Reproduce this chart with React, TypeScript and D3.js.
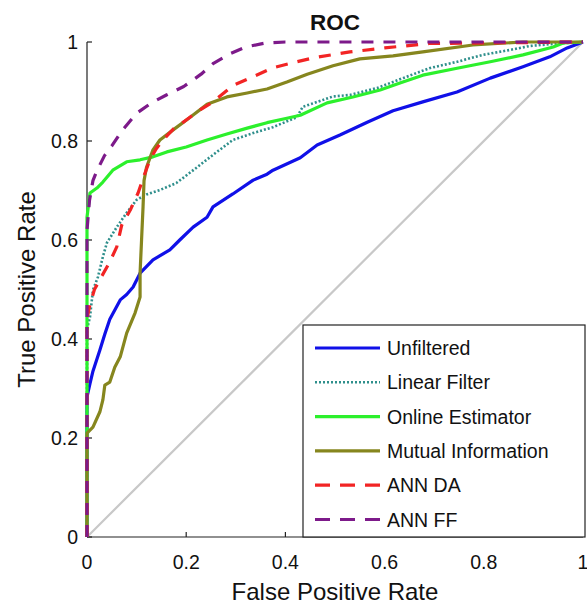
import React from "react";
import * as d3 from "d3";

const W = 587;
const H = 607;

const xTicks = [0, 0.2, 0.4, 0.6, 0.8, 1];
const yTicks = [0, 0.2, 0.4, 0.6, 0.8, 1];

// ROC points as [false positive rate, true positive rate]
const unfiltered: [number, number][] = [
  [0, 0], [0, 0.283], [0.006, 0.31], [0.012, 0.335], [0.026, 0.378], [0.036, 0.41],
  [0.046, 0.44], [0.067, 0.479], [0.08, 0.49], [0.093, 0.505], [0.107, 0.533],
  [0.133, 0.56], [0.167, 0.58], [0.187, 0.6], [0.214, 0.626], [0.242, 0.646],
  [0.254, 0.667], [0.294, 0.693], [0.335, 0.721], [0.363, 0.733], [0.375, 0.741],
  [0.43, 0.766], [0.464, 0.792], [0.51, 0.812], [0.565, 0.838], [0.617, 0.861],
  [0.677, 0.879], [0.746, 0.899], [0.813, 0.927], [0.879, 0.95], [0.933, 0.97],
  [0.968, 0.988], [1, 1],
];

const linearFilter: [number, number][] = [
  [0, 0], [0, 0.42], [0.006, 0.444], [0.012, 0.499], [0.022, 0.525], [0.032, 0.566],
  [0.04, 0.594], [0.06, 0.626], [0.08, 0.655], [0.1, 0.681], [0.12, 0.692],
  [0.147, 0.701], [0.18, 0.715], [0.222, 0.747], [0.254, 0.772], [0.294, 0.802],
  [0.335, 0.816], [0.375, 0.828], [0.423, 0.848], [0.435, 0.869], [0.496, 0.89],
  [0.53, 0.893], [0.585, 0.907], [0.637, 0.927], [0.69, 0.947], [0.746, 0.96],
  [0.798, 0.974], [0.853, 0.984], [0.893, 0.992], [0.95, 0.997], [1, 1],
];

const onlineEstimator: [number, number][] = [
  [0, 0], [0, 0.646], [0.006, 0.695], [0.02, 0.705], [0.032, 0.717], [0.052, 0.741],
  [0.08, 0.758], [0.107, 0.762], [0.133, 0.768], [0.161, 0.778], [0.2, 0.788],
  [0.242, 0.802], [0.282, 0.814], [0.323, 0.826], [0.363, 0.837], [0.403, 0.846],
  [0.43, 0.852], [0.484, 0.877], [0.536, 0.889], [0.591, 0.903], [0.631, 0.917],
  [0.677, 0.933], [0.746, 0.947], [0.813, 0.96], [0.879, 0.974], [0.94, 0.99],
  [0.96, 0.998], [1, 1],
];

const mutualInformation: [number, number][] = [
  [0, 0], [0, 0.21], [0.012, 0.222], [0.026, 0.253], [0.032, 0.277], [0.036, 0.307],
  [0.046, 0.313], [0.056, 0.343], [0.067, 0.364], [0.08, 0.412], [0.097, 0.453],
  [0.107, 0.485], [0.107, 0.533], [0.11, 0.6], [0.113, 0.667], [0.115, 0.72],
  [0.12, 0.747], [0.133, 0.782], [0.147, 0.802], [0.173, 0.822], [0.208, 0.848],
  [0.242, 0.874], [0.282, 0.889], [0.323, 0.897], [0.363, 0.905], [0.403, 0.919],
  [0.444, 0.935], [0.496, 0.952], [0.55, 0.966], [0.617, 0.972], [0.677, 0.98],
  [0.778, 0.994], [0.879, 1], [1, 1],
];

const annDA: [number, number][] = [
  [0, 0], [0, 0.44], [0.006, 0.47], [0.015, 0.5], [0.026, 0.52], [0.046, 0.556],
  [0.06, 0.586], [0.07, 0.63], [0.087, 0.66], [0.103, 0.695], [0.115, 0.73],
  [0.127, 0.762], [0.14, 0.785], [0.153, 0.802], [0.175, 0.825], [0.194, 0.838],
  [0.228, 0.863], [0.254, 0.879], [0.294, 0.912], [0.335, 0.93], [0.375, 0.948],
  [0.423, 0.96], [0.456, 0.968], [0.53, 0.98], [0.6, 0.988], [0.69, 0.997], [1, 1],
];

const annFF: [number, number][] = [
  [0, 0], [0, 0.62], [0.005, 0.68], [0.012, 0.72], [0.02, 0.74], [0.035, 0.77],
  [0.05, 0.79], [0.07, 0.82], [0.1, 0.856], [0.13, 0.877], [0.16, 0.893],
  [0.195, 0.91], [0.23, 0.935], [0.255, 0.957], [0.29, 0.977], [0.32, 0.99],
  [0.36, 0.998], [0.4, 1], [1, 1],
];

const seriesNames = [
  "Unfiltered",
  "Linear Filter",
  "Online Estimator",
  "Mutual Information",
  "ANN DA",
  "ANN FF",
];

const seriesData = [unfiltered, linearFilter, onlineEstimator, mutualInformation, annDA, annFF];

const seriesStyle = [
  { color: "#1010e8", width: 3.2, dash: "" },
  { color: "#2f8f8c", width: 2.6, dash: "2,2" },
  { color: "#2cf02c", width: 3.2, dash: "" },
  { color: "#86861e", width: 3.2, dash: "" },
  { color: "#f22424", width: 3.2, dash: "12,10" },
  { color: "#7d1a8a", width: 3.2, dash: "12,10" },
];

const FONT = "'Liberation Sans', Arial, Helvetica, sans-serif";

export default function App() {
  const left = 87;
  const right = 583;
  const top = 42;
  const bottom = 537;

  const x = d3.scaleLinear().domain([0, 1]).range([left, right]);
  const y = d3.scaleLinear().domain([0, 1]).range([bottom, top]);

  const line = d3
    .line<[number, number]>()
    .x((d) => x(d[0]))
    .y((d) => y(d[1]));

  const legend = { x0: 303, y0: 325, x1: 585, y1: 537 };
  const rowY = (i: number) => 348 + i * 34.3;

  return (
    <svg
      width={W}
      height={H}
      style={{ position: "absolute", left: 0, top: 0, background: "#fff" }}
      fontFamily={FONT}
    >
      <rect x={0} y={0} width={W} height={H} fill="#fff" />

      {/* chance diagonal */}
      <line
        x1={x(0)}
        y1={y(0)}
        x2={x(1)}
        y2={y(1)}
        stroke="#c8c8c8"
        strokeWidth={2.2}
      />

      {/* axes */}
      <line x1={left} y1={bottom} x2={right} y2={bottom} stroke="#222" strokeWidth={1.2} />
      <line x1={left} y1={bottom} x2={left} y2={top} stroke="#222" strokeWidth={1.2} />
      {xTicks.map((t) => (
        <g key={"xt" + t}>
          <line x1={x(t)} y1={bottom} x2={x(t)} y2={bottom - 5} stroke="#222" strokeWidth={1.2} />
          <text x={x(t)} y={569} textAnchor="middle" fontSize={19.5} fill="#111">
            {String(t)}
          </text>
        </g>
      ))}
      {yTicks.map((t) => (
        <g key={"yt" + t}>
          <line x1={left} y1={y(t)} x2={left + 5} y2={y(t)} stroke="#222" strokeWidth={1.2} />
          <text x={78} y={y(t) + 7} textAnchor="end" fontSize={19.5} fill="#111">
            {String(t)}
          </text>
        </g>
      ))}

      {/* curves */}
      {seriesData.map((data, i) => (
        <path
          key={seriesNames[i]}
          d={line(data) || ""}
          fill="none"
          stroke={seriesStyle[i].color}
          strokeWidth={seriesStyle[i].width}
          strokeDasharray={seriesStyle[i].dash || undefined}
          strokeLinejoin="round"
        />
      ))}

      {/* titles */}
      <text x={(left + right) / 2} y={30} textAnchor="middle" fontSize={22.5} fontWeight="bold" fill="#111">
        ROC
      </text>
      <text x={(left + right) / 2} y={600} textAnchor="middle" fontSize={24} fill="#111">
        False Positive Rate
      </text>
      <text
        transform={`translate(35, ${(top + bottom) / 2}) rotate(-90)`}
        textAnchor="middle"
        fontSize={24}
        fill="#111"
      >
        True Positive Rate
      </text>

      {/* legend */}
      <rect
        x={legend.x0}
        y={legend.y0}
        width={legend.x1 - legend.x0}
        height={legend.y1 - legend.y0}
        fill="#fff"
        stroke="#222"
        strokeWidth={1.2}
      />
      {seriesNames.map((name, i) => (
        <g key={"lg" + name}>
          <line
            x1={315}
            x2={380}
            y1={rowY(i)}
            y2={rowY(i)}
            stroke={seriesStyle[i].color}
            strokeWidth={seriesStyle[i].width}
            strokeDasharray={seriesStyle[i].dash ? (i >= 4 ? "15,10" : seriesStyle[i].dash) : undefined}
          />
          <text x={387} y={rowY(i) + 7} fontSize={19.5} fill="#111">
            {name}
          </text>
        </g>
      ))}
    </svg>
  );
}
